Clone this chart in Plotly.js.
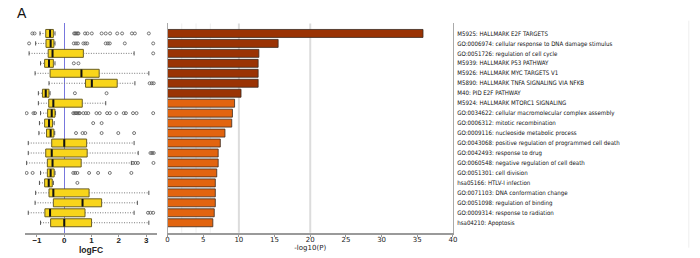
<!DOCTYPE html>
<html>
<head>
<meta charset="utf-8">
<script src="https://cdn.plot.ly/plotly-3.0.1.min.js"></script>
<style>html,body{margin:0;padding:0;background:#fff;}#chart{width:700px;height:258px;}</style>
</head>
<body>
<div id="chart"></div>
<script>
const terms = [
  "M5925: HALLMARK E2F TARGETS",
  "GO:0006974: cellular response to DNA damage stimulus",
  "GO:0051726: regulation of cell cycle",
  "M5939: HALLMARK P53 PATHWAY",
  "M5926: HALLMARK MYC TARGETS V1",
  "M5890: HALLMARK TNFA SIGNALING VIA NFKB",
  "M40: PID E2F PATHWAY",
  "M5924: HALLMARK MTORC1 SIGNALING",
  "GO:0034622: cellular macromolecular complex assembly",
  "GO:0006312: mitotic recombination",
  "GO:0009116: nucleoside metabolic process",
  "GO:0043068: positive regulation of programmed cell death",
  "GO:0042493: response to drug",
  "GO:0060548: negative regulation of cell death",
  "GO:0051301: cell division",
  "hsa05166: HTLV-I infection",
  "GO:0071103: DNA conformation change",
  "GO:0051098: regulation of binding",
  "GO:0009314: response to radiation",
  "hsa04210: Apoptosis"
];
const negLog10P = [35.8, 15.5, 12.8, 12.7, 12.7, 12.7, 10.3, 9.4, 9.1, 9.0, 8.05, 7.4, 7.1, 7.1, 6.9, 6.7, 6.7, 6.7, 6.55, 6.35];
const barTier = [1, 1, 1, 1, 1, 1, 1, 2, 2, 2, 2, 2, 2, 2, 2, 2, 2, 2, 2, 2];

const lowerWhisker = [-0.89, -1.05, -1.29, -0.87, -1.07, -0.56, -0.95, -0.95, -0.87, -0.91, -0.93, -1.32, -1.32, -1.38, -0.87, -0.91, -1.05, -1.07, -1.32, -0.87];
const q1FC        = [-0.68, -0.67, -0.59, -0.72, -0.52, 0.78, -0.80, -0.57, -0.61, -0.72, -0.65, -0.46, -0.68, -0.62, -0.62, -0.72, -0.56, -0.40, -0.71, -0.50];
const medianFC    = [-0.52, -0.50, -0.43, -0.56, 0.63, 1.01, -0.68, -0.40, -0.46, -0.56, -0.50, 0.00, -0.46, -0.43, -0.50, -0.57, -0.40, 0.67, -0.52, 0.00];
const q3FC        = [-0.40, -0.38, 0.70, -0.40, 1.28, 1.94, -0.56, 0.66, -0.34, -0.43, -0.38, 0.82, 0.84, 0.62, -0.37, -0.44, 0.91, 1.37, 0.76, 1.00];
const upperWhisker = [-0.34, -0.34, 2.56, -0.34, 3.10, 2.59, -0.52, 1.52, -0.32, -0.37, -0.35, 2.56, 2.71, 2.46, -0.34, -0.40, 3.10, 2.68, 2.56, 3.10];
const outliers = [
  [-1.17, -1.09, 0.36, 0.40, 0.44, 0.49, 0.52, 0.76, 0.85, 1.01, 1.37, 1.52, 1.68, 1.94, 2.12, 2.48, 2.59, 3.10],
  [-1.29, 0.35, 0.43, 0.50, 0.70, 0.77, 0.84, 1.52, 1.60, 1.67, 2.22, 3.26],
  [3.26],
  [0.35, 0.52],
  [],
  [3.13, 3.21, 3.28],
  [0.39, 1.55],
  [],
  [-1.38, -1.13, -1.07, 0.33, 0.38, 0.43, 0.48, 0.53, 0.57, 0.70, 0.79, 0.88, 1.18, 1.30, 1.57, 1.67, 1.91, 2.18, 2.26, 2.52, 2.65, 3.26],
  [1.06, 1.37],
  [0.43, 0.67, 0.77, 1.37, 1.98, 2.56],
  [],
  [3.16, 3.22, 3.28],
  [2.52, 2.61, 2.70, 3.27],
  [-1.38, -1.16, 0.33, 0.40, 0.48, 0.91, 1.24, 1.67, 2.46],
  [0.48],
  [],
  [],
  [3.07, 3.16, 3.26],
  []
];
const fcTicks = [-1, 0, 1, 2, 3];

// ---- derived trace arrays ----
const whX = [], whY = [];
terms.forEach((t, i) => {
  whX.push(lowerWhisker[i], q1FC[i], null, q3FC[i], upperWhisker[i], null);
  whY.push(t, t, null, t, t, null);
});
const outX = [], outY = [];
outliers.forEach((arr, i) => arr.forEach(v => { outX.push(v); outY.push(terms[i]); }));
const tierColor = {1: '#9a3304', 2: '#e2640f'};

const traces = [
  {
    type: 'box', orientation: 'h', xaxis: 'x', yaxis: 'y',
    y: terms, q1: q1FC, median: medianFC, q3: q3FC,
    lowerfence: q1FC, upperfence: q3FC,
    width: 0.8, whiskerwidth: 0, boxpoints: false,
    fillcolor: '#f8d51b', line: {color: '#6a5e22', width: 1},
    hoverinfo: 'skip'
  },
  {
    type: 'scatter', mode: 'lines', xaxis: 'x', yaxis: 'y',
    x: whX, y: whY, connectgaps: false,
    line: {color: '#777', width: 1, dash: '1px,1.5px'}, hoverinfo: 'skip'
  },
  {
    type: 'scatter', mode: 'markers', xaxis: 'x', yaxis: 'y',
    x: lowerWhisker.concat(upperWhisker), y: terms.concat(terms),
    marker: {symbol: 'line-ns', size: 3, line: {color: '#555', width: 1}}, hoverinfo: 'skip'
  },
  {
    type: 'scatter', mode: 'markers', xaxis: 'x', yaxis: 'y',
    x: medianFC, y: terms,
    marker: {symbol: 'line-ns', size: 5.4, line: {color: '#111', width: 2}}, hoverinfo: 'skip'
  },
  {
    type: 'scatter', mode: 'markers', xaxis: 'x', yaxis: 'y',
    x: outX, y: outY,
    marker: {symbol: 'circle-open', size: 3, color: '#555', line: {width: 0.8, color: '#555'}}, hoverinfo: 'skip'
  },
  {
    type: 'bar', orientation: 'h', xaxis: 'x2', yaxis: 'y2',
    x: negLog10P, y: terms, width: 0.8,
    marker: {color: barTier.map(t => tierColor[t]), line: {color: '#3a2a20', width: 0.8}},
    hoverinfo: 'skip'
  }
];

const yDomain = [0.098, 0.909];
const layout = {
  width: 700, height: 258,
  margin: {l: 0, r: 0, t: 0, b: 0},
  paper_bgcolor: '#fff', plot_bgcolor: 'rgba(0,0,0,0)',
  showlegend: false,
  xaxis: {
    domain: [0.0357, 0.2243], range: [-1.44, 3.40], anchor: 'y',
    tickvals: fcTicks, ticks: 'outside', ticklen: 2, tickcolor: '#999', ticklabelstandoff: -3,
    showline: true, linecolor: '#9a9a9a', linewidth: 2,
    showgrid: false, zeroline: true, zerolinecolor: '#7777dd', zerolinewidth: 1,
    tickfont: {family: 'Liberation Sans, Arial, sans-serif', size: 8, weight: 'bold', color: '#222'},
    title: {text: 'logFC', font: {family: 'Liberation Sans, Arial, sans-serif', size: 8.5, weight: 'bold', color: '#222'}, standoff: 1}
  },
  yaxis: {
    domain: yDomain, anchor: 'x', type: 'category', categoryorder: 'array', categoryarray: terms,
    range: [20, -1], autorange: false, showticklabels: false, showgrid: false, zeroline: false, showline: false, ticks: ''
  },
  xaxis2: {
    domain: [0.2393, 0.6471], range: [0, 40], anchor: 'y2', dtick: 5, tick0: 0,
    ticks: 'outside', ticklen: 2, tickcolor: '#999', ticklabelstandoff: -3,
    showline: true, linecolor: '#9a9a9a', linewidth: 2, showgrid: false, zeroline: false,
    tickfont: {family: 'DejaVu Sans, sans-serif', size: 7, color: '#222'},
    title: {text: '-log10(P)', font: {family: 'DejaVu Sans, sans-serif', size: 7, color: '#222'}, standoff: 1}
  },
  xaxis3: {
    overlaying: 'x2', anchor: 'y2', side: 'top', range: [0, 40], dtick: 5, tick0: 0,
    ticks: 'inside', ticklen: 2, tickcolor: '#999', showticklabels: false,
    showline: true, linecolor: '#aaa', linewidth: 1, showgrid: false, zeroline: false
  },
  yaxis2: {
    domain: yDomain, anchor: 'x2', side: 'right', type: 'category', categoryorder: 'array', categoryarray: terms,
    range: [20, -1], autorange: false, showgrid: false, zeroline: false,
    showline: true, mirror: true, linecolor: '#aaa', linewidth: 1, ticks: '', ticklabelstandoff: 2,
    tickfont: {family: 'DejaVu Sans Condensed, DejaVu Sans, sans-serif', size: 6.1, color: '#111'}
  },
  shapes: [
    ...[10, 20].map(v => ({type: 'line', xref: 'x2', yref: 'y2 domain', x0: v, x1: v, y0: 0, y1: 1, layer: 'below', line: {color: '#dcdcdc', width: 2}})),
    ...[2, 4, 6].map(v => ({type: 'line', xref: 'x2', yref: 'y2 domain', x0: v, x1: v, y0: 0, y1: 1, layer: 'below', line: {color: '#eeeeee', width: 1}})),
    {type: 'line', xref: 'paper', yref: 'paper', x0: 0.984, x1: 0.984, y0: 0.04, y1: 0.92, line: {color: '#eeeeee', width: 1}}
  ],
  annotations: [
    {text: 'A', xref: 'paper', yref: 'paper', x: 0.022, y: 0.95, xanchor: 'left', yanchor: 'middle', showarrow: false,
     font: {family: 'Liberation Sans, Arial, sans-serif', size: 14, color: '#111'}}
  ]
};

Plotly.newPlot('chart', traces, layout, {staticPlot: true, displayModeBar: false});
</script>
</body>
</html>
